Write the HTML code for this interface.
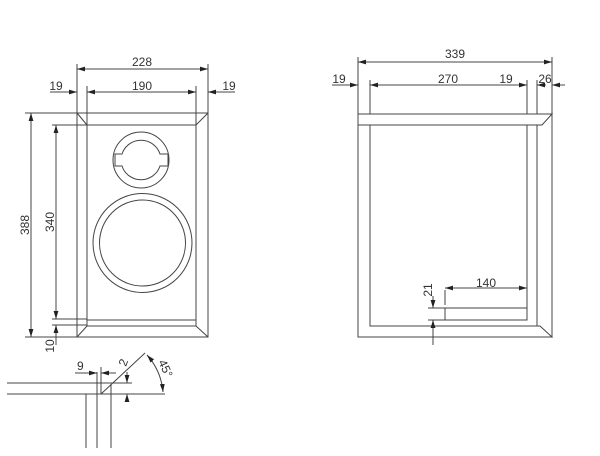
<!DOCTYPE html>
<html><head><style>body{margin:0;background:#fff}svg{display:block}text{font-family:"Liberation Sans",sans-serif;font-size:12px;fill:#333}</style></head><body>
<svg width="600" height="456" viewBox="0 0 600 456" stroke="#444" stroke-width="1" fill="none">
<defs><marker id="a" viewBox="0 0 10 6" refX="10" refY="3" markerWidth="8" markerHeight="5" orient="auto-start-reverse"><path d="M0,0L10,3L0,6z" fill="#222" stroke="none"/></marker></defs>
<rect x="77" y="113" width="131" height="224"/>
<rect x="87" y="125" width="109" height="195"/>
<path d="M87,326H196M77,113L87,125M208,113L196,125M77,337L87,326M208,337L196,326M87,320V326M196,320V326"/>
<circle cx="141" cy="160" r="28"/>
<path d="M122,154H115V166H122A20,20 0 0 0 160,166H168V154H160A20,20 0 0 0 122,154Z"/>
<circle cx="142.5" cy="243" r="49.5"/>
<circle cx="142.5" cy="243" r="43"/>
<path d="M77,113V64M208,113V64M87,125V86M196,125V86"/>
<path d="M77,69H208" marker-start="url(#a)" marker-end="url(#a)"/>
<path d="M50,92H77" marker-end="url(#a)"/><path d="M87,92H196" marker-start="url(#a)" marker-end="url(#a)"/><path d="M208,92H235" marker-start="url(#a)"/>
<path d="M25,113H77M52,125H87M52,319H87M52,325H87M25,337H77"/>
<path d="M31,113V337" marker-start="url(#a)" marker-end="url(#a)"/>
<path d="M56,125V319" marker-start="url(#a)" marker-end="url(#a)"/>
<path d="M56,345V325" marker-end="url(#a)"/>
<text x="142" y="66" text-anchor="middle" stroke="none">228</text>
<text x="56" y="90" text-anchor="middle" stroke="none">19</text>
<text x="142" y="90" text-anchor="middle" stroke="none">190</text>
<text x="229" y="90" text-anchor="middle" stroke="none">19</text>
<text transform="translate(29,225) rotate(-90)" text-anchor="middle" stroke="none">388</text>
<text transform="translate(54,222) rotate(-90)" text-anchor="middle" stroke="none">340</text>
<text transform="translate(54,346) rotate(-90)" text-anchor="middle" stroke="none">10</text>
<path d="M358,114H552L542,125H358ZM358,125V337H552L540,326H370V125M552,114V337M527,125V320H445V308H527M537,125V326"/>
<path d="M358,114V57M552,114V57M370,114V80M527,114V80M537,114V80"/>
<path d="M358,62H552" marker-start="url(#a)" marker-end="url(#a)"/>
<path d="M332,85H358" marker-end="url(#a)"/><path d="M370,85H527" marker-start="url(#a)" marker-end="url(#a)"/>
<path d="M537,85H546" marker-start="url(#a)"/><path d="M565,85H552" marker-end="url(#a)"/>
<path d="M445,288H527" marker-start="url(#a)" marker-end="url(#a)"/><path d="M445,305V290"/>
<path d="M428,308H445M428,320H445"/>
<path d="M433,296V308" marker-end="url(#a)"/><path d="M433,345V320" marker-end="url(#a)"/>
<text x="455" y="58" text-anchor="middle" stroke="none">339</text>
<text x="339" y="83" text-anchor="middle" stroke="none">19</text>
<text x="448" y="83" text-anchor="middle" stroke="none">270</text>
<text x="506" y="83" text-anchor="middle" stroke="none">19</text>
<text x="545" y="83" text-anchor="middle" stroke="none">26</text>
<text x="486" y="287" text-anchor="middle" stroke="none">140</text>
<text transform="translate(432,290) rotate(-90)" text-anchor="middle" stroke="none">21</text>
<path d="M7,383H130M7,394H165M86,394V448M97,372V448M111,384V448M101,394L145,353M97,383V394"/>
<path d="M75,373H97" marker-end="url(#a)"/><path d="M116,373H101" marker-end="url(#a)"/><path d="M101,367V394"/>
<path d="M127,372V383" marker-end="url(#a)"/><path d="M127,402V394" marker-end="url(#a)"/><path d="M120,383H132M120,394H132"/>
<path d="M147,355A64,64 0 0 1 163,392" marker-start="url(#a)" marker-end="url(#a)"/>
<text transform="translate(126,367) rotate(-70)" stroke="none">2</text>
<text x="77" y="370" stroke="none">9</text>
<text transform="translate(158,362) rotate(65)" stroke="none">45°</text>
</svg></body></html>
